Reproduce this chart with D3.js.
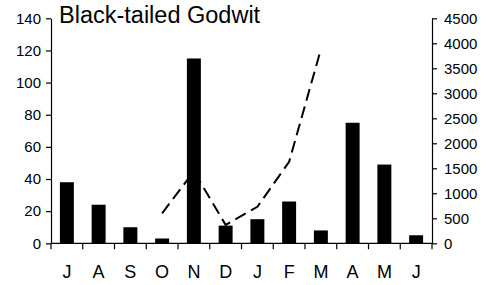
<!DOCTYPE html>
<html><head><meta charset="utf-8">
<script src="https://cdn.jsdelivr.net/npm/d3@7"></script>
<style>body{margin:0;background:#fff}svg{display:block}text{font-family:"Liberation Sans",Arial,sans-serif;fill:#000}</style>
</head><body>
<script>
const months = ["J","A","S","O","N","D","J","F","M","A","M","J"];
const barValues = [38,24,10,3,115,11,15,26,8,75,49,5];
const lineMonths = [3,4,5,6,7,8];
const lineValues = [600,1440,370,730,1630,3880];
const leftTicks = [0,20,40,60,80,100,120,140];
const rightTicks = [0,500,1000,1500,2000,2500,3000,3500,4000,4500];
const title = "Black-tailed Godwit";

const W=487,H=285;
const svg=d3.select("body").append("svg").attr("width",W).attr("height",H);
const L=51,R=432,T=18.3,B=243.3;
const x=d3.scaleBand().domain(d3.range(months.length)).range([L,R]).padding(0);
const yL=d3.scaleLinear().domain([0,140]).range([B,T]);
const yR=d3.scaleLinear().domain([0,4500]).range([B,T]);
const bw=x.bandwidth();

// bars
svg.append("g").selectAll("rect").data(barValues).join("rect")
 .attr("x",(d,i)=>x(i)+bw*0.28).attr("width",bw*0.44)
 .attr("y",d=>yL(d)).attr("height",d=>B-yL(d)).attr("fill","#000");

// line
const line=d3.line().x((d,i)=>x(lineMonths[i])+bw/2).y(d=>yR(d));
svg.append("path").datum(lineValues).attr("d",line).attr("fill","none")
 .attr("stroke","#000").attr("stroke-width",2).attr("stroke-dasharray","12,6");

// left axis
const gl=svg.append("g").attr("transform",`translate(${L},0)`)
 .call(d3.axisLeft(yL).tickValues(leftTicks).tickSize(5).tickPadding(5).tickSizeOuter(0).tickFormat(d3.format("d")));
// right axis
const gr=svg.append("g").attr("transform",`translate(${R},0)`)
 .call(d3.axisRight(yR).tickValues(rightTicks).tickSize(5).tickPadding(7).tickSizeOuter(0).tickFormat(d3.format("d")));
[gl,gr].forEach(g=>{g.selectAll("text").style("font-size","15px").attr("font-family",null);
 g.selectAll("line,path").attr("stroke","#000").attr("stroke-width",1.2);});

// x axis
const gx=svg.append("g").attr("transform",`translate(0,${B})`);
gx.append("line").attr("x1",L).attr("x2",R).attr("stroke","#000").attr("stroke-width",1.2);
gx.selectAll("line.t").data(d3.range(months.length+1)).join("line").attr("class","t")
 .attr("x1",i=>L+i*bw).attr("x2",i=>L+i*bw).attr("y1",0).attr("y2",6)
 .attr("stroke","#000").attr("stroke-width",1.2);
gx.selectAll("text").data(months).join("text")
 .attr("x",(d,i)=>x(i)+bw/2).attr("y",35).attr("text-anchor","middle")
 .style("font-size","18px").text(d=>d);

svg.append("text").attr("x",59).attr("y",23).style("font-size","23.5px").text(title);
</script>
</body></html>
